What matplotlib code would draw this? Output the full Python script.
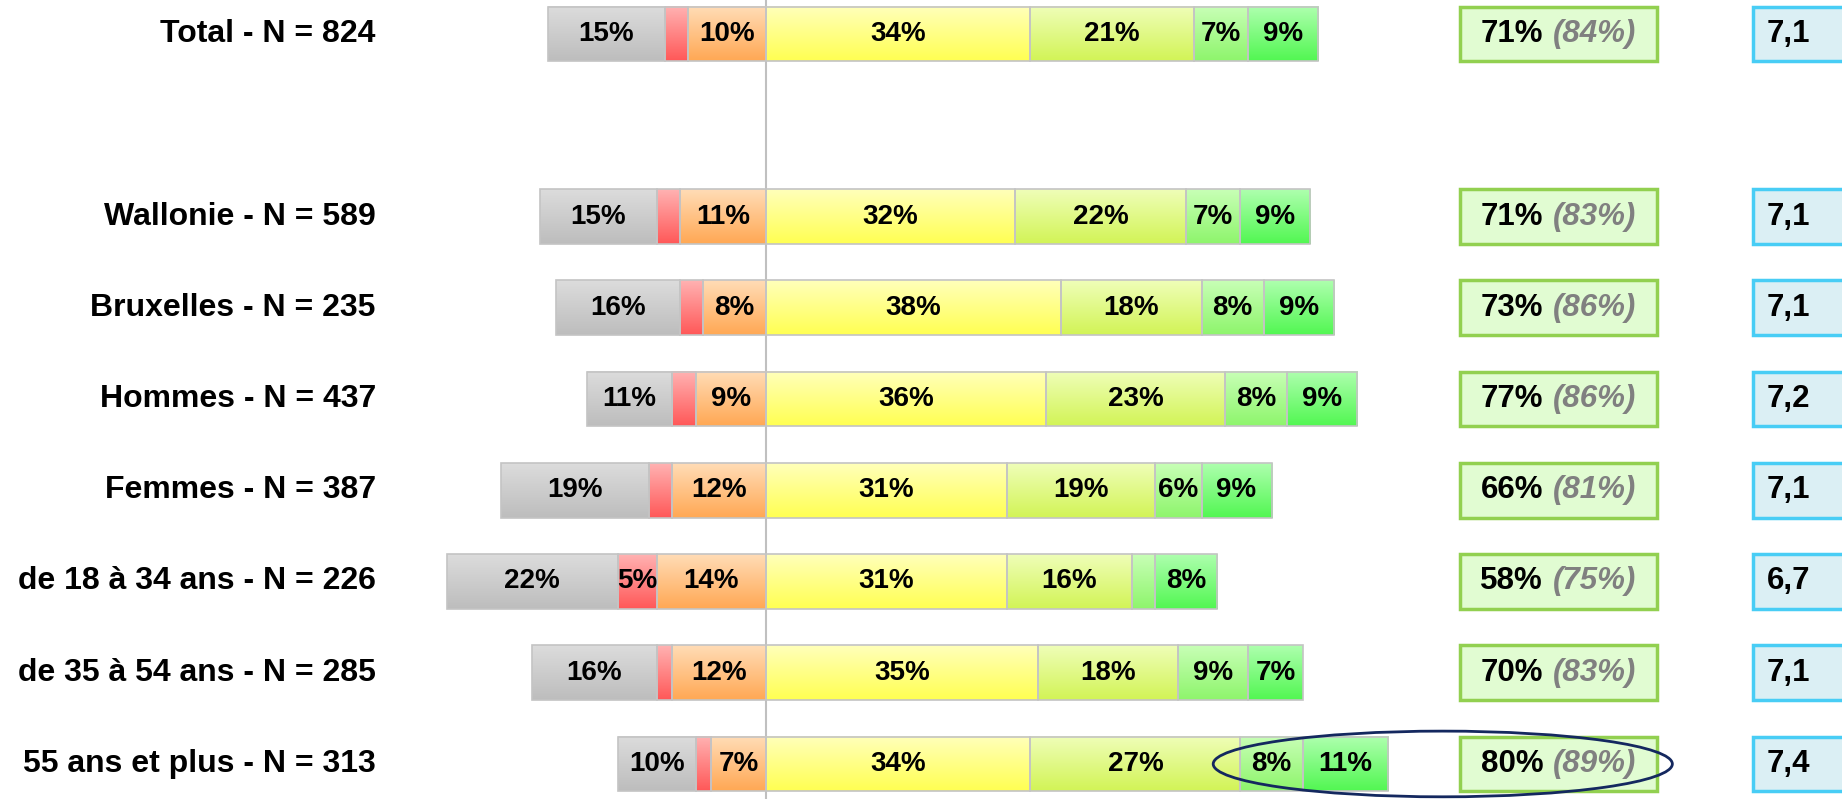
import numpy as np
import matplotlib
matplotlib.use("Agg")
import matplotlib.pyplot as plt
from matplotlib.patches import Rectangle, Ellipse
from matplotlib.colors import to_rgb

plt.rcParams['font.family'] = ['Liberation Sans', 'DejaVu Sans']

# --- data ---
labels = ["Total - N = 824", "Wallonie - N = 589", "Bruxelles - N = 235",
          "Hommes - N = 437", "Femmes - N = 387", "de 18 à 34 ans - N = 226",
          "de 35 à 54 ans - N = 285", "55 ans et plus - N = 313"]
rows = [0, 2, 3, 4, 5, 6, 7, 8]
nsp = [15, 15, 16, 11, 19, 22, 16, 10]
red = [3, 3, 3, 3, 3, 5, 2, 2]
orange = [10, 11, 8, 9, 12, 14, 12, 7]
yellow = [34, 32, 38, 36, 31, 31, 35, 34]
lgreen = [21, 22, 18, 23, 19, 16, 18, 27]
green = [7, 7, 8, 8, 6, 3, 9, 8]
bgreen = [9, 9, 9, 9, 9, 8, 7, 11]
satis = [71, 71, 73, 77, 66, 58, 70, 80]
satis_wide = [84, 83, 86, 86, 81, 75, 83, 89]
score = ["7,1", "7,1", "7,1", "7,2", "7,1", "6,7", "7,1", "7,4"]

# gradient colours (top, bottom)
grads = {
    'nsp': ('#dcdcdc', '#bdbdbd'),
    'red': ('#ffb2b2', '#ff5858'),
    'orange': ('#ffdcb6', '#ffa854'),
    'yellow': ('#ffffba', '#ffff52'),
    'lgreen': ('#effeb8', '#d2f456'),
    'green': ('#c8ffb6', '#8ef56c'),
    'bgreen': ('#aeffae', '#52f752'),
}

fig = plt.figure(figsize=(18.42, 7.99), dpi=100)
ax = fig.add_axes([0, 0, 1, 1])

h = 0.60


def gradient(c1, c2, n=64):
    a = np.array(to_rgb(c1))
    b = np.array(to_rgb(c2))
    t = np.linspace(0, 1, n)[:, None]
    return (a + (b - a) * t)[:, None, :]


def seg(left, width, y, key):
    if width <= 0:
        return
    img = gradient(*grads[key])
    ax.imshow(img, extent=(left, left + width, y + h / 2, y - h / 2),
              origin='upper', aspect='auto', interpolation='bilinear', zorder=2)
    ax.add_patch(Rectangle((left, y - h / 2), width, h, fill=False,
                           edgecolor='#c4c4c4', lw=1.2, zorder=3))


def label(x, y, v):
    if v >= 5:
        ax.text(x, y, f"{v}%", ha='center', va='center', fontsize=20,
                fontweight='bold', zorder=4)


for i, y in enumerate(rows):
    # negative side, drawn leftwards from 0
    left_parts = [('orange', orange[i]), ('red', red[i]), ('nsp', nsp[i])]
    x = 0
    for key, v in left_parts:
        seg(x - v, v, y, key)
        label(x - v / 2, y, v)
        x -= v
    # positive side
    x = 0
    for key, v in [('yellow', yellow[i]), ('lgreen', lgreen[i]),
                   ('green', green[i]), ('bgreen', bgreen[i])]:
        seg(x, v, y, key)
        label(x + v / 2, y, v)
        x += v

    ax.text(-50.1, y, labels[i], ha='right', va='center', fontsize=23,
            fontweight='bold')

    # satisfaction box
    ax.add_patch(Rectangle((89.2, y - h / 2), 25.3, h, facecolor='#e1fcd2',
                           edgecolor='#92d050', lw=2.5, zorder=2))
    ax.text(99.9, y, f"{satis[i]}%", ha='right', va='center', fontsize=22.5,
            fontweight='bold', zorder=4)
    ax.text(101.1, y, f"({satis_wide[i]}%)", ha='left', va='center',
            fontsize=22.5, fontweight='bold', style='italic', color='#808080',
            zorder=4)

    # score box
    ax.add_patch(Rectangle((126.9, y - h / 2), 20, h, facecolor='#dbeff4',
                           edgecolor='#48cdf5', lw=2.5, zorder=2))
    ax.text(131.4, y, score[i], ha='center', va='center', fontsize=22.5,
            fontweight='bold', zorder=4)

# centre line
ax.axvline(0, color='#c0c0c0', lw=1.5, zorder=1)

# highlight ellipse on the last row
ax.add_patch(Ellipse((87.0, rows[-1]), 59, 0.72, fill=False,
                     edgecolor='#14285f', lw=2, zorder=5))

ax.set_xlim(-98.4, 138.3)
ax.set_ylim(8.384, -0.373)
ax.axis('off')

fig.savefig("out.png", dpi=100)
